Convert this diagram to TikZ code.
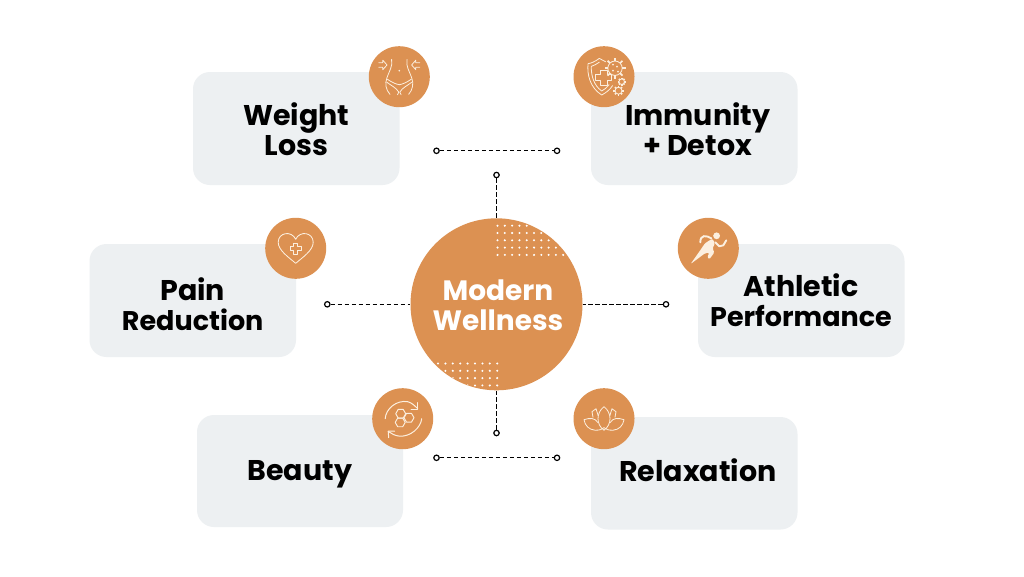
\documentclass[tikz,border=0pt]{standalone}
\usepackage{fontspec}
\setmainfont{Poppins}[BoldFont={* Bold}]
\definecolor{orangeC}{HTML}{DC9152}
\definecolor{boxC}{HTML}{EDF0F2}
\definecolor{iconC}{HTML}{FCEFDF}
\usetikzlibrary{arrows.meta}
\newcommand{\smallline}{\fontsize{27pt}{29pt}\selectfont}
\tikzset{
  card/.style={fill=boxC,rounded corners=17pt,draw=none},
  badge/.style={circle,fill=orangeC,minimum size=61pt,inner sep=0pt,draw=none},
  hub/.style={circle,fill=orangeC,minimum size=172pt,inner sep=0pt,draw=none},
  cardtext/.style={font=\fontsize{28.5pt}{30pt}\selectfont\bfseries,align=center,text=black,inner sep=0pt},
  hubtext/.style={font=\fontsize{28pt}{30.5pt}\selectfont\bfseries,align=center,text=white,inner sep=0pt},
  end/.style={circle,draw=black,fill=white,line width=1.2pt,minimum size=5.4pt,inner sep=0pt},
  link/.style={draw=black,line width=1.3pt,dash pattern=on 4.4pt off 2.6pt},
  ico/.style={draw=iconC,line width=0.8pt,line cap=round,line join=round,fill=none},
  icofill/.style={fill=iconC,draw=none}
}
\newcommand{\hexa}[3]{\draw[ico,line width=0.95pt] (#1+#3,#2) -- (#1+#3/2,#2+0.866*#3) -- (#1-#3/2,#2+0.866*#3) -- (#1-#3,#2) -- (#1-#3/2,#2-0.866*#3) -- (#1+#3/2,#2-0.866*#3) -- cycle;}
\newcommand{\gearshape}[3]{%
  \draw[ico] (#1,#2) circle ({#3*0.72});
  \foreach \a in {0,45,...,315}{\draw[ico,line width=1.7pt,line cap=butt] ({#1+#3*0.72*cos(\a)},{#2+#3*0.72*sin(\a)}) -- ({#1+#3*1.05*cos(\a)},{#2+#3*1.05*sin(\a)});}
}
\begin{document}
\begin{tikzpicture}[x=1pt,y=-1pt]
\useasboundingbox[fill=white] (0,0) rectangle (1024,576);
% cards
\path[card] (193,72) rectangle (399.5,185);
\path[card] (591,72) rectangle (797.5,185);
\path[card] (89.5,244) rectangle (296,357);
\path[card] (698,244) rectangle (904.5,357);
\path[card] (197,415) rectangle (403,527);
\path[card] (591,417) rectangle (797.5,529.5);
% hub
\node[hub] (hub) at (496.5,304.3) {};
\begin{scope}
  \clip (hub.center) circle (85.5);
  \foreach \i in {0,...,9}\foreach \j in {0,...,4}
    \fill[white] (497.5+7.3*\i,225.7+7.3*\j) circle (1.15);
  \foreach \i in {0,...,8}\foreach \j in {0,...,4}
    \fill[white] (497.2-7.4*\i,363.5+7.3*\j) circle (1.15);
\end{scope}
% connector ends
\node[end] (ta) at (436.5,150.8) {};
\node[end] (tb) at (557,150.8) {};
\node[end] (ba) at (436.5,457.8) {};
\node[end] (bb) at (557,457.8) {};
\node[end] (tv) at (496.5,175) {};
\node[end] (bv) at (496.5,433) {};
\node[end] (lh) at (327.3,304.3) {};
\node[end] (rh) at (666,304.3) {};
\draw[link] (ta) -- (tb);
\draw[link] (ba) -- (bb);
\draw[link] (tv) -- (hub.north);
\draw[link] (bv) -- (hub.south);
\draw[link] (lh) -- (hub.west);
\draw[link] (rh) -- (hub.east);
% badges
\node[badge] (b1) at (399.3,76.7) {};
\node[badge] (b2) at (604,76.7) {};
\node[badge] (b3) at (295.7,248.3) {};
\node[badge] (b4) at (708.3,248.3) {};
\node[badge] (b5) at (402.7,418.7) {};
\node[badge] (b6) at (604,418.7) {};
% texts
\node[cardtext] (t1) at (296.2,129.5) {Weight\\Loss};
\node[cardtext] (t2) at (697.7,129.5) {Immunity\\+ Detox};
\node[cardtext] (t3) at (192.7,304.2) {Pain\\{\smallline Reduction}};
\node[cardtext] (t4) at (801,300.2) {Athletic\\{\smallline Performance}};
\node[cardtext] (t5) at (299.8,474) {Beauty};
\node[cardtext] (t6) at (697.8,469.7) {Relaxation};
\node[hubtext] (th) at (498,305) {Modern\\Wellness};
% icon: body
\begin{scope}[shift={(399.3,76.7)}]
  \foreach \s in {1,-1}{\begin{scope}[xscale=\s]
    \draw[ico] (7.7,-17.3) .. controls (6.5,-10) and (10,-6) .. (12.5,1.5) .. controls (14.5,7) and (13.5,13) .. (9.3,17.7);
    \draw[ico] (12,2.5) .. controls (7,6) and (3,7.5) .. (0,8) ;
    \draw[ico] (12.5,5.5) .. controls (8,9) and (3,11) .. (0.5,15.5) -- (1.8,18);
    \draw[ico] (20.5,-14) -- (16.5,-14) -- (16.5,-16.5) -- (12.3,-11.7) -- (16.5,-7) -- (16.5,-9.5) -- (20.5,-9.5);
  \end{scope}}
  \fill[iconC] (0,-6) circle (0.9);
\end{scope}
% icon: shield and gears
\begin{scope}[shift={(604,76.7)}]
  \draw[ico] (-4.7,-18.3) .. controls (-9,-15) and (-13,-13.5) .. (-16,-13) .. controls (-17,-2) and (-14,11) .. (-2.3,18.3) .. controls (2,16) and (6,13) .. (8.5,9);
  \draw[ico] (-4.7,-18.3) -- (1.5,-15);
  \draw[ico] (-4.7,-14.5) .. controls (-8,-12.5) and (-10,-11) .. (-12.7,-10.3) .. controls (-13,-1) and (-10,9) .. (-2.3,14.3) .. controls (0,13) and (3,11) .. (5,8);
  \draw[ico,line width=0.95pt,fill=orangeC] (-3.5,-6.5) -- (3,-6.5) -- (3,-2) -- (7.5,-2) -- (7.5,4) -- (3,4) -- (3,9) -- (-3.5,9) -- (-3.5,4) -- (-8.5,4) -- (-8.5,-2) -- (-3.5,-2) -- cycle;
  \gearshape{11}{-8.5}{10}
  \foreach \p in {(9,-12),(13,-10),(9,-6),(14,-5)}\fill[iconC] \p circle (1);
  \gearshape{17.7}{5}{3.8}
  \gearshape{14.5}{14}{4.8}
\end{scope}
% icon: heart
\begin{scope}[shift={(295.7,248.3)}]
  \draw[ico,line width=0.85pt] (0,15) .. controls (-7,9) and (-17.5,2) .. (-17.5,-6) .. controls (-17.5,-16) and (-4,-18) .. (0,-9) .. controls (4,-18) and (17.5,-16) .. (17.5,-6) .. controls (17.5,2) and (7,9) .. (0,15) -- cycle;
  \draw[ico,line width=1pt] (-2,-5) -- (2,-5) -- (2,-2) -- (5.5,-2) -- (5.5,2) -- (2,2) -- (2,6) -- (-2,6) -- (-2,2) -- (-5.5,2) -- (-5.5,-2) -- (-2,-2) -- cycle;
\end{scope}
% icon: runner
\begin{scope}[shift={(708.3,248.3)}]
  \fill[iconC] (8.3,-12.5) circle (3.4);
  \path[icofill,rounded corners=1.2pt] (4,-9.7) -- (6.7,-5) -- (4.3,0) -- (6,4.3) -- (1,11) -- (-1,9) -- (1,4.3) -- (-3.3,5) -- (-17.7,15.7) -- (-8.3,2.3) -- (-3.3,-5) -- cycle;
  \draw[iconC,line width=1.9pt,line cap=round,fill=none] (-8,-6) .. controls (-8,-14) and (-2,-13) .. (3,-10);
  \draw[iconC,line width=1.9pt,line cap=round,line join=round,fill=none] (7,-6) -- (11,-2) -- (15,-3) -- (18,-8);
\end{scope}
% icon: hexagons
\begin{scope}[shift={(402.7,418.7)}]
  \hexa{-2}{-5}{5}
  \hexa{6.3}{-1}{5}
  \hexa{-2.5}{3.7}{5}
  \draw[ico,line width=1pt] (-17.5,0) .. controls (-17,-10) and (-6,-19) .. (5,-17) .. controls (9,-16) and (12,-13) .. (15,-10);
  \draw[ico,line width=1pt] (15,-16) -- (15,-9.5) -- (8.5,-9.5);
  \draw[ico,line width=1pt] (19,0) .. controls (18,9) and (8,18) .. (-3,17.5) .. controls (-8,17) and (-11,15) .. (-14,13);
  \draw[ico,line width=1pt] (-14,19) -- (-14.5,12.5) -- (-8,12.5);
\end{scope}
% icon: lotus
\begin{scope}[shift={(604,418.7)}]
  \draw[ico] (0,11.5) .. controls (-8,6) and (-8,-6) .. (0,-12) .. controls (8,-6) and (8,6) .. (0,11.5) -- cycle;
  \foreach \s in {1,-1}{\begin{scope}[xscale=\s]
    \draw[ico] (5.8,-3) -- (8,-10) -- (12,-7) -- (11,-1.5);
    \draw[ico] (6,4) .. controls (9,-1) and (14,-1) .. (20,1) .. controls (19,7) and (15,11) .. (9,11.5) .. controls (5,11.5) and (2,11) .. (0,9);
  \end{scope}}
\end{scope}
\end{tikzpicture}
\end{document}
